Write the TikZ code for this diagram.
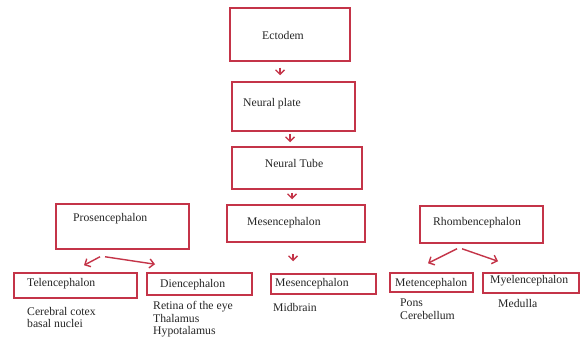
\documentclass[tikz,border=0pt]{standalone}
\usepackage{fontspec}
\setmainfont{Liberation Serif}
\usetikzlibrary{arrows.meta,calc}
\definecolor{boxred}{RGB}{196,52,72}
\tikzset{
  box/.style={draw=boxred, line width=1.5pt, inner sep=0pt},
  lbl/.style={anchor=west, inner sep=0pt, font=\fontsize{11.7}{12.5}\selectfont, text=black!85, align=left},
  clbl/.style={inner sep=0pt, font=\fontsize{11.7}{12.5}\selectfont, text=black!85},
  arr/.style={draw=boxred, line width=1.4pt, -{Straight Barb[length=4.5pt,width=9pt]}}
}
\begin{document}
\begin{tikzpicture}[x=1pt,y=-1pt]
\useasboundingbox[fill=white] (0,0) rectangle (585,342);
% boxes
\node[box, minimum width=120, minimum height=53] (ecto) at (290,34.5) {};
\node[box, minimum width=123, minimum height=49] (plate) at (293.5,106.5) {};
\node[box, minimum width=130, minimum height=42] (tube) at (297,168) {};
\node[box, minimum width=133, minimum height=45] (pros) at (122.5,226.5) {};
\node[box, minimum width=138, minimum height=37] (mes) at (296,223.5) {};
\node[box, minimum width=123, minimum height=37] (rhomb) at (481.5,224.5) {};
\node[box, minimum width=123, minimum height=25] (tel) at (75.5,285.5) {};
\node[box, minimum width=105, minimum height=22] (die) at (199.5,284) {};
\node[box, minimum width=105, minimum height=20] (mes2) at (323.5,284) {};
\node[box, minimum width=83, minimum height=19] (met) at (431.5,282.5) {};
\node[box, minimum width=96, minimum height=20] (mye) at (531,283) {};
% labels in boxes
\node[clbl] (tecto) at (283,35) {Ectodem};
\node[lbl] (tplate) at (243,104) {Neural plate};
\node[clbl] (ttube) at (294,163) {Neural Tube};
\node[lbl] (tpros) at (73,219) {Prosencephalon};
\node[lbl] (tmes) at (247,223) {Mesencephalon};
\node[clbl] (trhomb) at (477,223) {Rhombencephalon};
\node[lbl] (ttel) at (27,284) {Telencephalon};
\node[lbl] (tdie) at (160,285) {Diencephalon};
\node[lbl] (tmes2) at (275,284) {Mesencephalon};
\node[lbl] (tmet) at (395,284) {Metencephalon};
\node[lbl] (tmye) at (490,281) {Myelencephalon};
% descriptions
\node[lbl] (dtel) at (27,317.5) {Cerebral cotex\\basal nuclei};
\node[lbl] (ddie) at (153,319.5) {Retina of the eye\\Thalamus\\Hypotalamus};
\node[lbl] (dmes) at (273,307) {Midbrain};
\node[lbl] (dmet) at (400,309) {Pons\\Cerebellum};
\node[lbl] (dmye) at (498,303) {Medulla};
% arrows (offsets in picture units, y downward)
\draw[arr] ($(ecto.south)+(-10,6)$) -- ($(plate.north)+(-13.5,-6)$);
\draw[arr] ($(plate.south)+(-3.5,2)$) -- ($(tube.north)+(-7,-4)$);
\draw[arr] ($(tube.south)+(-5,3)$) -- ($(mes.north)+(-4,-5)$);
\draw[arr] ($(pros.south)+(-22.5,7)$) -- ($(tel.north)+(8.5,-7)$);
\draw[arr] ($(pros.south)+(-17.5,7)$) -- ($(die.north)+(-44.5,-8)$);
\draw[arr] ($(mes.south)+(-3,11)$) -- ($(mes2.north)+(-30.5,-12)$);
\draw[arr] ($(rhomb.south)+(-24.5,5)$) -- ($(met.north)+(-3.5,-9)$);
\draw[arr] ($(rhomb.south)+(-19.5,5)$) -- ($(mye.north)+(-33,-11)$);
\end{tikzpicture}
\end{document}
